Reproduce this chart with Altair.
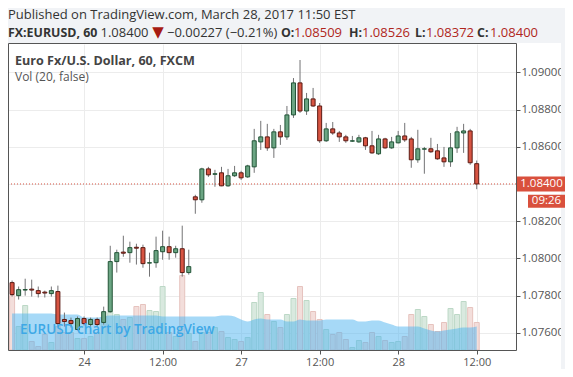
import altair as alt
import pandas as pd

# ---------------- data ----------------
bar_index = list(range(72))
opens = [1.07870, 1.07800, 1.07830, 1.07835, 1.07827, 1.07819, 1.07811, 1.07822, 1.07672, 1.07666,
         1.07618, 1.07677, 1.07645, 1.07672, 1.07656, 1.07714, 1.07983, 1.08034, 1.08031, 1.08060,
         1.08058, 1.07975, 1.07977, 1.08036, 1.08063, 1.08031, 1.08052, 1.07924, 1.08331, 1.08315,
         1.08481, 1.08452, 1.08460, 1.08390, 1.08444, 1.08460, 1.08438, 1.08492, 1.08626, 1.08653,
         1.08594, 1.08680, 1.08653, 1.08771, 1.08943, 1.08792, 1.08857, 1.08819, 1.08632, 1.08696,
         1.08674, 1.08653, 1.08630, 1.08626, 1.08648, 1.08605, 1.08562, 1.08642, 1.08594, 1.08621,
         1.08658, 1.08642, 1.08530, 1.08587, 1.08589, 1.08578, 1.08540, 1.08519, 1.08594, 1.08674,
         1.08685, 1.08509]
highs = [1.07881, 1.07849, 1.07891, 1.07886, 1.07849, 1.07827, 1.07849, 1.07854, 1.07709, 1.07682,
         1.07688, 1.07688, 1.07682, 1.07682, 1.07741, 1.08068, 1.08047, 1.08122, 1.08090, 1.08079,
         1.08074, 1.08031, 1.08117, 1.08149, 1.08117, 1.08068, 1.08176, 1.08047, 1.08342, 1.08487,
         1.08492, 1.08476, 1.08492, 1.08481, 1.08497, 1.08471, 1.08503, 1.08696, 1.08739, 1.08723,
         1.08696, 1.08717, 1.08819, 1.08969, 1.09066, 1.08889, 1.08916, 1.08835, 1.08728, 1.08733,
         1.08685, 1.08664, 1.08658, 1.08664, 1.08653, 1.08685, 1.08664, 1.08648, 1.08653, 1.08685,
         1.08728, 1.08653, 1.08691, 1.08599, 1.08648, 1.08615, 1.08599, 1.08674, 1.08707, 1.08723,
         1.08696, 1.08526]
lows = [1.07795, 1.07779, 1.07800, 1.07795, 1.07790, 1.07790, 1.07795, 1.07634, 1.07634, 1.07629,
        1.07613, 1.07640, 1.07634, 1.07634, 1.07645, 1.07709, 1.07924, 1.08009, 1.07977, 1.07967,
        1.07950, 1.07902, 1.07950, 1.07993, 1.07993, 1.08004, 1.07902, 1.07913, 1.08240, 1.08299,
        1.08438, 1.08385, 1.08388, 1.08385, 1.08438, 1.08422, 1.08433, 1.08460, 1.08583, 1.08578,
        1.08540, 1.08610, 1.08637, 1.08755, 1.08782, 1.08771, 1.08814, 1.08621, 1.08626, 1.08664,
        1.08626, 1.08621, 1.08626, 1.08621, 1.08583, 1.08562, 1.08556, 1.08589, 1.08589, 1.08618,
        1.08626, 1.08487, 1.08514, 1.08455, 1.08567, 1.08530, 1.08492, 1.08492, 1.08567, 1.08567,
        1.08503, 1.08372]
closes = [1.07806, 1.07832, 1.07833, 1.07830, 1.07811, 1.07814, 1.07827, 1.07650, 1.07661, 1.07650,
          1.07677, 1.07650, 1.07672, 1.07645, 1.07714, 1.07983, 1.08031, 1.08028, 1.08058, 1.08055,
          1.07972, 1.07977, 1.08042, 1.08063, 1.08031, 1.08052, 1.07924, 1.07956, 1.08315, 1.08481,
          1.08449, 1.08455, 1.08390, 1.08444, 1.08460, 1.08433, 1.08497, 1.08632, 1.08653, 1.08594,
          1.08680, 1.08653, 1.08771, 1.08943, 1.08792, 1.08857, 1.08819, 1.08632, 1.08696, 1.08674,
          1.08653, 1.08632, 1.08632, 1.08648, 1.08605, 1.08567, 1.08642, 1.08594, 1.08626, 1.08658,
          1.08637, 1.08530, 1.08589, 1.08589, 1.08573, 1.08535, 1.08519, 1.08594, 1.08680, 1.08685,
          1.08514, 1.08400]
volumes = [5450, 2350, 4450, 850, 350, 1550, 750, 2350, 1750, 1750,
           1150, 1150, 1350, 1750, 2750, 3750, 3550, 3050, 3250, 4350,
           4550, 3950, 3850, 6350, 1750, 1350, 7450, 1650, 850, 1750,
           1750, 2250, 1850, 1250, 1050, 850, 1250, 4750, 5750, 3550,
           2850, 2250, 3550, 5150, 6350, 4950, 3850, 3050, 2050, 1550,
           1750, 1050, 250, 950, 750, 1750, 1350, 950, 750, 850,
           1350, 3550, 4050, 3350, 2550, 1850, 2750, 4150, 3550, 4850,
           4250, 2750]
vol_ma = [3650, 3650, 3650, 3650, 3650, 3650, 3650, 3550, 3550, 3550,
          3550, 3250, 3250, 3250, 3350, 3450, 3450, 3450, 3450, 3450,
          3450, 3450, 3450, 3350, 3350, 3350, 3350, 3350, 3350, 3350,
          3350, 3350, 3450, 3450, 3350, 3050, 2850, 3050, 3150, 3050,
          3050, 3050, 2850, 2850, 3050, 2950, 2950, 2950, 3050, 3050,
          3050, 3050, 3050, 2850, 2850, 2950, 2950, 2750, 2550, 2350,
          2350, 2350, 2350, 2150, 1950, 1850, 1950, 2050, 2150, 2250,
          2250, 2350]

x_tick_values = [11, 23, 35, 47, 59, 71]
x_tick_labels = ["24", "12:00", "27", "12:00", "28", "12:00"]
price_ticks = [1.076, 1.078, 1.080, 1.082, 1.084, 1.086, 1.088, 1.090]
last_price = 1.08400

df = pd.DataFrame({"i": bar_index, "open": opens, "high": highs, "low": lows,
                   "close": closes, "volume": volumes, "ma": vol_ma})
one = pd.DataFrame({"a": [0]})

# ---------------- styles ----------------
FONT = "Open Sans"
W, H = 508, 306
UP, DOWN = "#6ba583", "#d75442"
UP_B, DOWN_B = "#225437", "#5b1a13"
RED_TXT = "#b0261c"
TAG_RED = "#d9503d"
is_up = "datum.close >= datum.open"

x_scale = alt.Scale(domain=[0.14, 76.24], nice=False, zero=False)
p_scale = alt.Scale(domain=[1.07508, 1.09152], nice=False, zero=False)
v_scale = alt.Scale(domain=[0, 30600], nice=False, zero=False)

label_expr = " : ".join(
    f"datum.value == {v} ? '{t}'" for v, t in zip(x_tick_values, x_tick_labels)
) + " : ''"

x_axis = alt.Axis(values=x_tick_values, labelExpr=label_expr, grid=True,
                  gridColor="#ececec", domain=False, tickColor="#555555",
                  tickSize=4, labelPadding=2, labelFontSize=11,
                  labelColor="#555555", labelFont=FONT, title=None)
p_axis = alt.Axis(orient="right", values=price_ticks, format=".5f", grid=True,
                  gridColor="#ececec", domain=False, tickColor="#555555",
                  tickSize=4, labelPadding=1, labelFontSize=11.5,
                  labelColor="#555555", labelFont=FONT, title=None)

X = alt.X("i:Q", scale=x_scale, axis=x_axis)


def PY(field):
    return alt.Y(field, scale=p_scale, axis=p_axis)


def PD(value):
    return alt.YDatum(value, scale=p_scale, axis=p_axis)


def txt(text, x, y, size=13, color="#333333", weight="normal", align="left",
        baseline="alphabetic", font=FONT):
    return alt.Chart(one).mark_text(
        text=text, align=align, baseline=baseline, fontSize=size, font=font,
        color=color, fontWeight=weight
    ).encode(x=alt.value(x), y=alt.value(y))


def box(x, x2, y, y2, fill):
    return alt.Chart(one).mark_rect(fill=fill).encode(
        x=alt.value(x), x2=alt.value(x2), y=alt.value(y), y2=alt.value(y2))


# outside (grey) strips
GREY = "#f1f3f6"
bg_top = box(-10, 560, -40, -1, GREY)
bg_right = box(553, 560, -40, 340, GREY)
bg_bottom = box(-10, 560, 328, 340, GREY)

# volume pane
vol_bars = alt.Chart(df).mark_bar(size=5, strokeWidth=1, clip=True).encode(
    x=X,
    y=alt.Y("volume:Q", scale=v_scale, axis=None),
    fill=alt.condition(is_up, alt.value("#d9e9df"), alt.value("#f3dedb")),
    stroke=alt.condition(is_up, alt.value("#bcd8c6"), alt.value("#e6c3be")),
)
vol_area = alt.Chart(df).mark_area(color="#4db3f0", opacity=0.5, interpolate="monotone",
                                   clip=True).encode(
    x=X,
    y=alt.Y("ma:Q", scale=v_scale, axis=None),
)
volume_pane = alt.layer(vol_bars, vol_area)

# price pane
wicks = alt.Chart(df).mark_rule(color="#737375", strokeWidth=1, clip=True).encode(
    x=X, y=PY("low:Q"), y2="high:Q",
)
bodies = alt.Chart(df).mark_bar(size=4, strokeWidth=1, clip=True).encode(
    x=X, y=PY("open:Q"), y2="close:Q",
    fill=alt.condition(is_up, alt.value(UP), alt.value(DOWN)),
    stroke=alt.condition(is_up, alt.value(UP_B), alt.value(DOWN_B)),
)
price_line = alt.Chart(one).mark_rule(color="#d75442", strokeDash=[1, 2], strokeWidth=1).encode(
    x=alt.value(0), x2=alt.value(W), y=PD(last_price)
)
tag = alt.Chart(one).mark_rect(fill=TAG_RED).encode(
    x=alt.value(508), x2=alt.value(559), y=PD(1.08440), y2=alt.datum(1.08360),
)
tag_txt = alt.Chart(one).mark_text(text="1.08400", color="white", fontSize=11.5, font=FONT,
                                   align="center", baseline="middle").encode(
    x=alt.value(533.5), y=PD(last_price))
time_tag = alt.Chart(one).mark_rect(fill=TAG_RED).encode(
    x=alt.value(520), x2=alt.value(557), y=PD(1.08342), y2=alt.datum(1.08272),
)
time_txt = alt.Chart(one).mark_text(text="09:26", color="white", fontSize=11.5, font=FONT,
                                    align="center", baseline="middle").encode(
    x=alt.value(538.5), y=PD(1.08307))

price_pane = alt.layer(wicks, price_line, bodies, tag, tag_txt, time_tag, time_txt)

frame = alt.Chart(one).mark_rect(fillOpacity=0, stroke="#555555", strokeWidth=1).encode(
    x=alt.value(0.5), x2=alt.value(508.5), y=alt.value(-0.5), y2=alt.value(306.5))

# texts
B = 12.4  # bold header size
header = [
    txt("Published on TradingView.com, March 28, 2017 11:50 EST", 0, -25.5, color="#333333"),
    txt("FX:EURUSD, 60", 0, -7.5, size=B, weight="bold"),
    txt("1.08400", 92.5, -7.5),
    txt("▼", 150, -7.5, size=15, color="#a61b12", align="center", font="DejaVu Sans"),
    txt("\u22120.00227 (\u22120.21%)", 159, -7.5),
    txt("O:", 273, -7.5, size=B, weight="bold"),
    txt("1.08509", 286, -7.5, color=RED_TXT),
    txt("H:", 341, -7.5, size=B, weight="bold"),
    txt("1.08526", 354, -7.5, color=RED_TXT),
    txt("L:", 407, -7.5, size=B, weight="bold"),
    txt("1.08372", 418, -7.5, color=RED_TXT),
    txt("C:", 469, -7.5, size=B, weight="bold"),
    txt("1.08400", 482, -7.5, color=RED_TXT),
    txt("Euro Fx/U.S. Dollar, 60, FXCM", 7, 21, size=12.6, weight="bold", color="#444444"),
    txt("Vol (20, false)", 7, 37, size=12, color="#555555"),
    txt("EURUSD chart by TradingView", 12, 289.5, size=13.5, color="#3da8e6", weight=600),
]

chart = alt.layer(
    bg_top, bg_right, bg_bottom, volume_pane, price_pane, frame, *header
).resolve_scale(y="independent").properties(
    width=W, height=H,
    autosize=alt.AutoSizeParams(type="none"),
    padding={"left": 0, "top": 36, "right": 49, "bottom": 19},
    background="white",
).configure_view(stroke=None, fill="white")

chart.save("out.html", embed_options={"renderer": "svg", "actions": False})
